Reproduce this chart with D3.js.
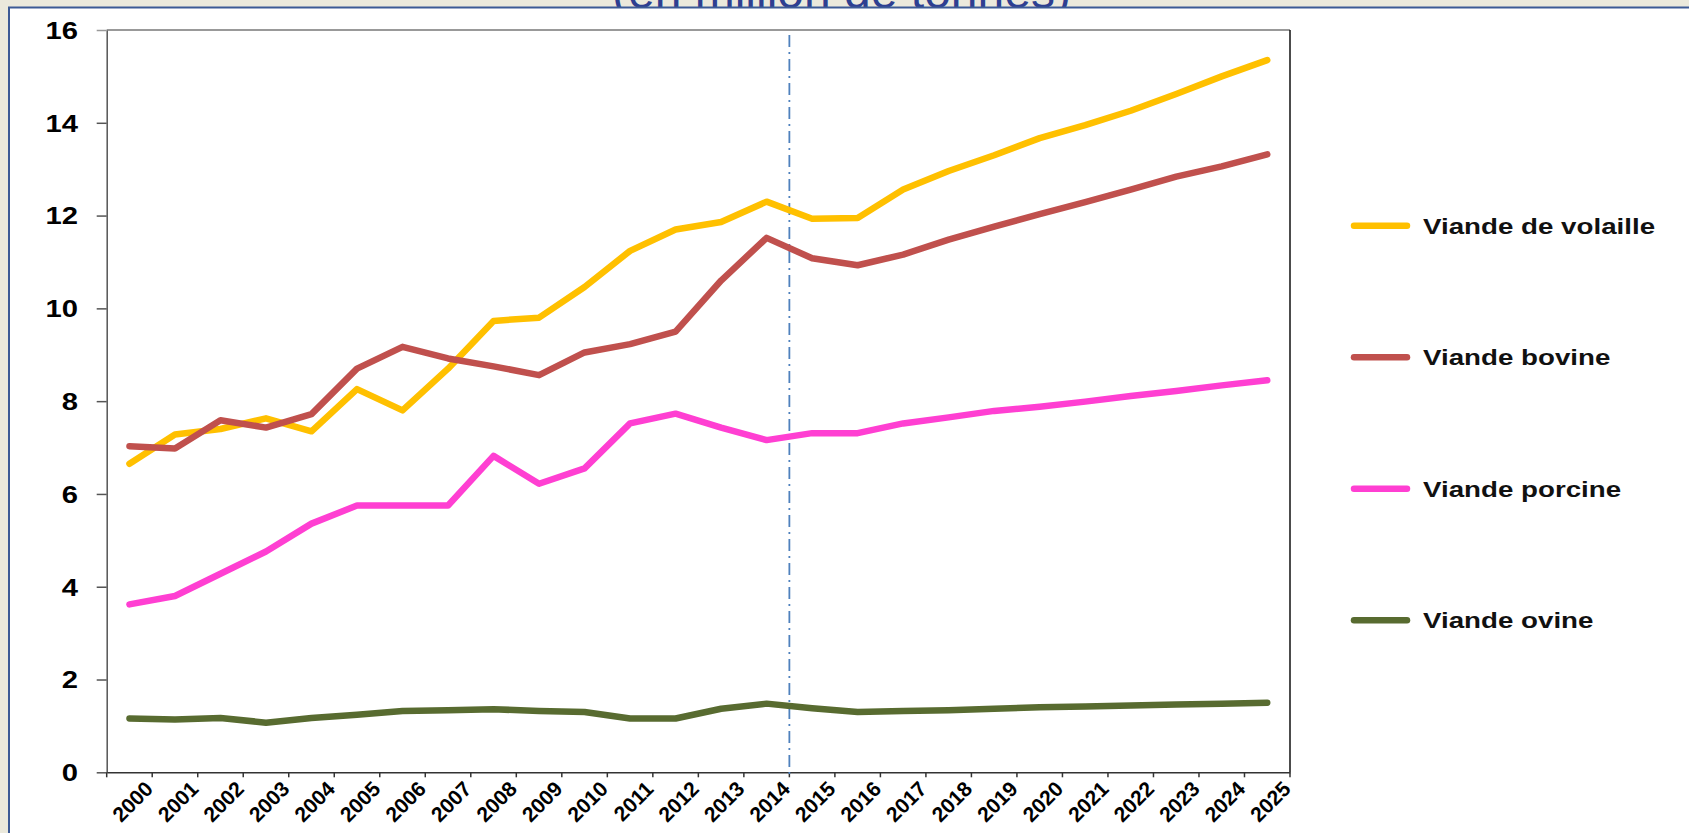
<!DOCTYPE html>
<html>
<head>
<meta charset="utf-8">
<script src="https://cdn.jsdelivr.net/npm/d3@7"></script>
<style>
  body { margin: 0; background: #ebe9dc; }
  svg { display: block; }
  text { font-family: "Liberation Sans", Arial, sans-serif; }
</style>
</head>
<body>
<svg id="chart" width="1689" height="833"></svg>
<script>
// data (million tonnes)
const years = d3.range(2000, 2026).map(String);
const volaille = [6.65, 7.28, 7.40, 7.63, 7.35, 8.26, 7.80, 8.70, 9.73, 9.80, 10.46, 11.24, 11.70, 11.86, 12.30, 11.93, 11.95, 12.56, 12.96, 13.30, 13.67, 13.95, 14.26, 14.62, 15.00, 15.35];
const bovine   = [7.03, 6.98, 7.59, 7.43, 7.72, 8.70, 9.17, 8.92, 8.75, 8.56, 9.05, 9.23, 9.50, 10.60, 11.52, 11.08, 10.93, 11.16, 11.48, 11.76, 12.03, 12.29, 12.56, 12.84, 13.06, 13.32];
const porcine  = [3.62, 3.80, 4.28, 4.76, 5.36, 5.75, 5.75, 5.75, 6.82, 6.22, 6.55, 7.52, 7.73, 7.43, 7.16, 7.31, 7.31, 7.52, 7.65, 7.79, 7.88, 7.99, 8.11, 8.22, 8.34, 8.45];
const ovine    = [1.16, 1.14, 1.17, 1.07, 1.17, 1.24, 1.32, 1.34, 1.36, 1.32, 1.30, 1.16, 1.16, 1.37, 1.48, 1.38, 1.30, 1.32, 1.34, 1.37, 1.40, 1.42, 1.44, 1.46, 1.48, 1.50];
const yTicks = [0, 2, 4, 6, 8, 10, 12, 14, 16];

const series = [
  {name: "Viande de volaille", values: volaille, color: "#ffc000"},
  {name: "Viande bovine",      values: bovine,   color: "#c0504d"},
  {name: "Viande porcine",     values: porcine,  color: "#ff3fd2"},
  {name: "Viande ovine",       values: ovine,    color: "#586b30"}
];

const svg = d3.select("#chart");
const stretch = 1.27; // text in the picture is wide

// title, mostly hidden behind the white panel
svg.append("text")
  .attr("x", 612).attr("y", 8)
  .style("font-size", "48px")
  .style("fill", "#2e3f91")
  .text("(en million de tonnes)");

svg.append("rect")
  .attr("x", 9).attr("y", 7.5)
  .attr("width", 1700).attr("height", 900)
  .style("fill", "#fff")
  .style("stroke", "#3c5a95")
  .style("stroke-width", 2);

const x = d3.scaleBand().domain(years).range([106.7, 1290]);
const y = d3.scaleLinear().domain([0, 16]).range([772.3, 30]);
const cx = d => x(d) + x.bandwidth() / 2;

// plot frame: grey top, black right
svg.append("line")
  .attr("x1", x.range()[0]).attr("x2", x.range()[1])
  .attr("y1", y(16)).attr("y2", y(16))
  .style("stroke", "#999").style("stroke-width", 2);
svg.append("line")
  .attr("x1", x.range()[1]).attr("x2", x.range()[1])
  .attr("y1", y(16)).attr("y2", y(0))
  .style("stroke", "#111").style("stroke-width", 1.5);

// y axis
const yAxis = svg.append("g")
  .attr("transform", `translate(${x.range()[0]},0)`)
  .call(d3.axisLeft(y).tickValues(yTicks).tickSize(10).tickSizeOuter(0).tickPadding(0));
yAxis.select(".domain").style("stroke", "#555").style("stroke-width", 1.5);
yAxis.selectAll(".tick line").style("stroke", d => d === 16 ? "#999" : "#555").style("stroke-width", 1.5);
yAxis.selectAll(".tick text")
  .attr("x", null).attr("dy", null)
  .attr("transform", `translate(-28.7,8.3) scale(${stretch},1)`)
  .style("font-size", "23px").style("font-weight", "bold").style("fill", "#000")
  .style("text-anchor", "end");

// x axis: ticks between categories, labels at centres
const xAxis = svg.append("g")
  .attr("transform", `translate(0,${y(0)})`)
  .call(d3.axisBottom(x).tickSize(0).tickSizeOuter(0));
xAxis.select(".domain").style("stroke", "#333").style("stroke-width", 1.5);
xAxis.selectAll(".tick text")
  .attr("y", null).attr("dy", null)
  .attr("transform", `translate(${x.bandwidth() / 2 + 2},18) rotate(-45)`)
  .style("font-size", "21px").style("font-weight", "bold").style("fill", "#000")
  .style("text-anchor", "end");

const bounds = years.map(d => x(d)).concat([x.range()[1]]);
svg.append("g").selectAll("line")
  .data(bounds)
  .enter()
  .append("line")
  .attr("x1", d => d).attr("x2", d => d)
  .attr("y1", y(0)).attr("y2", y(0) + 5)
  .style("stroke", "#333").style("stroke-width", 1.5);

// projection separator between 2014 and 2015
svg.append("line")
  .attr("x1", x("2015")).attr("x2", x("2015"))
  .attr("y1", 35).attr("y2", y(0) + 5)
  .style("stroke", "#4f81bd").style("stroke-width", 1.8)
  .style("stroke-dasharray", "12,5,2,5");

// lines
const line = d3.line()
  .x((v, i) => cx(years[i]))
  .y(v => y(v));

svg.append("g").selectAll("path")
  .data(series)
  .enter()
  .append("path")
  .attr("d", d => line(d.values))
  .style("fill", "none")
  .style("stroke", d => d.color)
  .style("stroke-width", 6.5)
  .style("stroke-linecap", "round")
  .style("stroke-linejoin", "round");

// legend
const legend = svg.append("g").selectAll("g")
  .data(series)
  .enter()
  .append("g")
  .attr("transform", (d, i) => `translate(1354,${225.8 + i * 131.5})`);

legend.append("line")
  .attr("x1", 0).attr("x2", 53)
  .style("stroke", d => d.color)
  .style("stroke-width", 6.5)
  .style("stroke-linecap", "round");

legend.append("text")
  .attr("transform", `translate(69,7.7) scale(1.26,1)`)
  .style("font-size", "22px").style("font-weight", "bold").style("fill", "#111")
  .text(d => d.name);
</script>
</body>
</html>
